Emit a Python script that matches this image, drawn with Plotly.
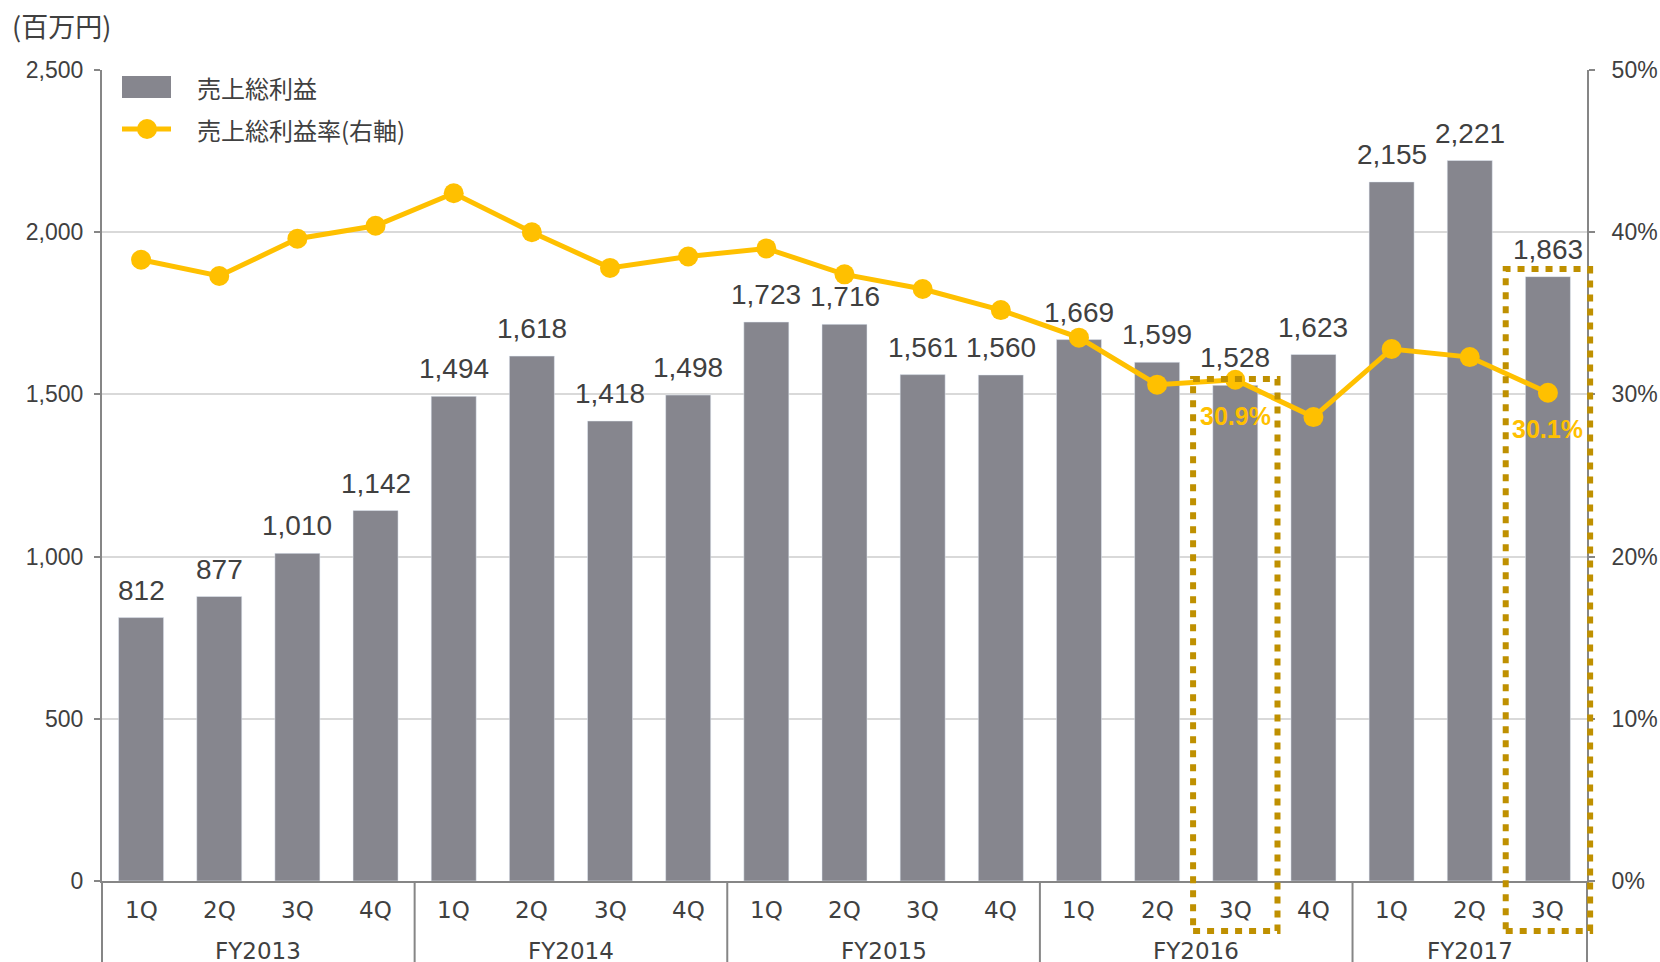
import plotly.graph_objects as go

fiscal_years = ["FY2013"] * 4 + ["FY2014"] * 4 + ["FY2015"] * 4 + ["FY2016"] * 4 + ["FY2017"] * 3
quarters = ["1Q", "2Q", "3Q", "4Q"] * 4 + ["1Q", "2Q", "3Q"]
gross_profit = [812, 877, 1010, 1142, 1494, 1618, 1418, 1498, 1723, 1716,
                1561, 1560, 1669, 1599, 1528, 1623, 2155, 2221, 1863]
gross_margin = [0.383, 0.373, 0.396, 0.404, 0.424, 0.400, 0.378, 0.385, 0.390, 0.374,
                0.365, 0.352, 0.335, 0.306, 0.309, 0.286, 0.328, 0.323, 0.301]
fy_names = ["FY2013", "FY2014", "FY2015", "FY2016", "FY2017"]
highlight_idx = [14, 18]
highlight_text = ["30.9%", "30.1%"]

BAR = "#86868E"
GOLD = "#FFC000"
BOX = "#BF9000"
TXT = "#404040"
AX = "#868686"
GRID = "#D9D9D9"
NUM_FONT = "Liberation Sans, Arial, sans-serif"
JP_FONT = "Noto Sans CJK JP, sans-serif"
CAT_FONT = "DejaVu Sans, Verdana, sans-serif"

W, H = 1660, 962
L, R, T, B = 102, 73, 70, 81
PW, PH = W - L - R, H - T - B


def px(x):
    return (x - L) / PW


def py(y):
    return (H - B - y) / PH


xs = list(range(len(gross_profit)))
n = len(gross_profit)


def cat_paper(v):
    # category coordinate -> paper fraction (x range is [-0.5, n-0.5])
    return (v + 0.5) / n


fig = go.Figure()
fig.add_trace(go.Bar(x=xs, y=gross_profit, marker_color=BAR, width=0.576,
                     showlegend=False, hoverinfo="y"))
fig.add_trace(go.Scatter(x=xs, y=gross_margin, yaxis="y2", mode="lines+markers",
                         line=dict(color=GOLD, width=5),
                         marker=dict(color=GOLD, size=20), showlegend=False))

ann = []
for i, v in enumerate(gross_profit):
    ann.append(dict(x=i, y=v, xref="x", yref="y", text=f"{v:,}", showarrow=False,
                    yanchor="bottom", yshift=10, font=dict(family=NUM_FONT, size=28, color=TXT)))
for i, q in enumerate(quarters):
    ann.append(dict(x=i, y=py(910), xref="x", yref="paper", text=q, showarrow=False,
                    yanchor="middle", font=dict(family=CAT_FONT, size=23, color=TXT)))
# fiscal year group labels
starts = {}
for i, fy in enumerate(fiscal_years):
    starts.setdefault(fy, []).append(i)
for fy in fy_names:
    idx = starts[fy]
    ann.append(dict(x=(idx[0] + idx[-1]) / 2, y=py(951), xref="x", yref="paper", text=fy,
                    showarrow=False, yanchor="middle",
                    font=dict(family=CAT_FONT, size=23, color=TXT)))
for i, t in zip(highlight_idx, highlight_text):
    ann.append(dict(x=i, y=gross_margin[i], xref="x", yref="y2", text=f"<b>{t}</b>",
                    showarrow=False, yanchor="top", yshift=-20,
                    font=dict(family="Liberation Sans Narrow, Arial Narrow, Liberation Sans, sans-serif",
                              size=25, color=GOLD)))
# unit label
ann.append(dict(x=px(10), y=py(26), xref="paper", yref="paper", text="(百万円)",
                showarrow=False, xanchor="left", yanchor="middle",
                font=dict(family=JP_FONT, size=27, color=TXT)))
# legend text
ann.append(dict(x=px(195), y=py(87), xref="paper", yref="paper", text="売上総利益",
                showarrow=False, xanchor="left", yanchor="middle",
                font=dict(family=JP_FONT, size=24, color=TXT)))
ann.append(dict(x=px(195), y=py(129), xref="paper", yref="paper", text="売上総利益率(右軸)",
                showarrow=False, xanchor="left", yanchor="middle",
                font=dict(family=JP_FONT, size=24, color=TXT)))

shapes = []
# group dividers and extended axis lines
bounds = [-0.5]
for i in range(1, n):
    if fiscal_years[i] != fiscal_years[i - 1]:
        bounds.append(i - 0.5)
bounds.append(n - 0.5)
for bx in bounds:
    shapes.append(dict(type="line", xref="paper", yref="paper", x0=cat_paper(bx),
                       x1=cat_paper(bx), y0=0, y1=-0.15,
                       line=dict(color=AX, width=2)))
# highlight boxes
box_tops = [379, 269]
for i, top in zip(highlight_idx, box_tops):
    shapes.append(dict(type="rect", xref="paper", yref="paper",
                       x0=cat_paper(i - 0.54), x1=cat_paper(i + 0.54),
                       y0=py(931), y1=py(top),
                       line=dict(color=BOX, width=6, dash="7px,7px")))
# legend symbols
shapes.append(dict(type="rect", xref="paper", yref="paper", x0=px(122), x1=px(171),
                   y0=py(98), y1=py(76), fillcolor=BAR, line=dict(width=0)))
shapes.append(dict(type="line", xref="paper", yref="paper", x0=px(122), x1=px(171),
                   y0=py(129), y1=py(129), line=dict(color=GOLD, width=5)))
shapes.append(dict(type="circle", xref="paper", yref="paper", x0=px(137), x1=px(157),
                   y0=py(139), y1=py(119), fillcolor=GOLD, line=dict(width=0)))

fig.update_layout(
    width=W, height=H,
    margin=dict(l=L, r=R, t=T, b=B, autoexpand=False),
    paper_bgcolor="white", plot_bgcolor="white",
    bargap=0.424,
    showlegend=False,
    xaxis=dict(range=[-0.5, n - 0.5], showticklabels=False, ticks="", showgrid=False,
               showline=True, linecolor=AX, linewidth=2, zeroline=False, fixedrange=True,
               automargin=False),
    yaxis=dict(range=[0, 2500], dtick=500, tickformat=",", showgrid=True, gridcolor=GRID,
               gridwidth=2, showline=True, linecolor=AX, linewidth=2, ticks="outside",
               ticklen=6, tickcolor=AX, tickwidth=2, zeroline=False, automargin=False,
               tickfont=dict(family=NUM_FONT, size=23, color=TXT), ticklabelstandoff=6),
    yaxis2=dict(range=[0, 0.5], dtick=0.1, tickformat=".0%", overlaying="y", side="right",
                showgrid=False, showline=True, linecolor=AX, linewidth=2, ticks="outside",
                ticklen=6, tickcolor=AX, tickwidth=2, zeroline=False, automargin=False,
                tickfont=dict(family=NUM_FONT, size=23, color=TXT), ticklabelstandoff=12),
    annotations=ann,
    shapes=shapes,
)

fig.write_html("out.html", config={"displayModeBar": False},
               post_script="document.body.style.margin='0';document.body.style.overflow='hidden';")
